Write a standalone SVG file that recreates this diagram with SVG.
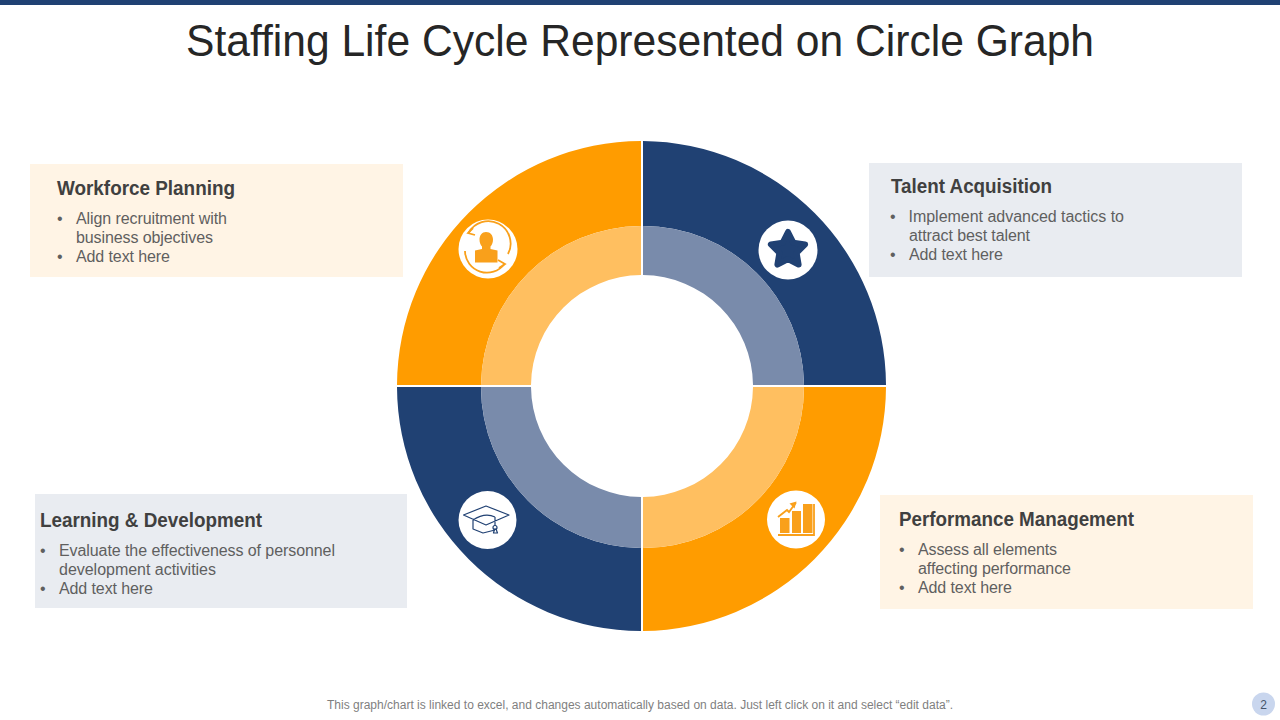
<svg xmlns="http://www.w3.org/2000/svg" width="1280" height="720" viewBox="0 0 1280 720">
<style>
text{font-family:"Liberation Sans",Arial,sans-serif}
.title{font-size:44px;fill:#262626}
.head{font-size:20px;font-weight:bold;fill:#404040}
.body{font-size:16px;fill:#5f5f5f}
.foot{font-size:12px;fill:#7f7f7f}
.blue{fill:#204173}.orange{fill:#ff9c00}.lblue{fill:#798bab}.lorange{fill:#ffbf60}
.peach{fill:#fff4e5}.grey{fill:#e9ecf1}
.o{fill:none;stroke:#f9a01b;stroke-width:1.8}
.n{fill:none;stroke:#204173;stroke-width:1.2;stroke-linejoin:round}
.bar{fill:#f9a01b}
</style>
<rect width="1280" height="720" fill="#fff"/>
<rect width="1280" height="5" fill="#204173"/>
<text class="title" x="186" y="56" textLength="908" lengthAdjust="spacingAndGlyphs">Staffing Life Cycle Represented on Circle Graph</text>
<g id="ring">
<path class="blue" d="M643 141A245 245 0 0 1 886 385H804A161 161 0 0 0 643 226Z"/>
<path class="orange" d="M886 387A245 245 0 0 1 643 631V548A161 161 0 0 0 804 387Z"/>
<path class="blue" d="M641 631A245 245 0 0 1 397 387H481A161 161 0 0 0 641 548Z"/>
<path class="orange" d="M397 385A245 245 0 0 1 641 141V226A161 161 0 0 0 481 385Z"/>
<path class="lblue" d="M643 226A161 161 0 0 1 804 385H753A111 111 0 0 0 643 275Z"/>
<path class="lorange" d="M804 387A161 161 0 0 1 643 548V497A111 111 0 0 0 753 387Z"/>
<path class="lblue" d="M641 548A161 161 0 0 1 481 387H531A111 111 0 0 0 641 497Z"/>
<path class="lorange" d="M481 385A161 161 0 0 1 641 226V275A111 111 0 0 0 531 385Z"/>
</g>
<g id="icon-workforce">
<circle cx="488" cy="249" r="29.500" fill="#fff"/>
<path class="o" d="M468.500 233A22 22 0 0 1 508 254M504.500 264A22 22 0 0 1 465 251"/>
<path class="o" d="M473 228l-5 5 7 2M498 260l7 4-6 4"/>
<path class="bar" d="M486 232c4.500 0 7 3.500 7 7.500 0 3-1 5.500-2.500 7v2.500l7 1.500v12h-22.500v-12l7-1.500v-2.500c-1.500-1.500-2.500-4-2.500-7 0-4 2.500-7.500 6.500-7.500z"/>
</g>
<g id="icon-star">
<circle cx="788" cy="250" r="29.500" fill="#fff"/>
<path class="blue" stroke="#204173" stroke-width="6" stroke-linejoin="round" d="M788 232L793.300 242.700 805.100 244.400 796.600 252.800 798.600 264.600 788 259 777.400 264.600 779.400 252.800 770.900 244.400 782.700 242.700Z"/>
</g>
<g id="icon-learning">
<circle cx="487.500" cy="520" r="29" fill="#fff"/>
<path class="n" d="M463.500 515l22.500-9 23 9-23 10zM473 518.500v10.500l10 4 12-3M473 520q12-8 22-3M495 517v9"/>
<circle class="n" cx="495" cy="527.500" r="2"/>
<path class="n" d="M493.500 533l1-4h1.500l1.500 4z"/>
</g>
<g id="icon-performance">
<circle cx="796" cy="519.500" r="29" fill="#fff"/>
<path class="bar" d="M780 518h9.500v15H780zM792 511h9v22h-9zM803 504h9.500v29H803z"/>
<path class="o" stroke-width="1.200" d="M778 535h36V504M778 517l9-7 2 2 7-9.500"/>
<path class="bar" d="M796.500 501.500l-7 2 5 5z"/>
</g>
<g id="workforce-planning">
<rect class="peach" x="30" y="164" width="373" height="113"/>
<text class="head" x="57" y="195" textLength="178" lengthAdjust="spacingAndGlyphs">Workforce Planning</text>
<text class="body" x="57" y="224">•</text><text class="body" x="76" y="224" textLength="151">Align recruitment with</text>
<text class="body" x="76" y="243" textLength="137">business objectives</text>
<text class="body" x="57" y="262">•</text><text class="body" x="76" y="262" textLength="94">Add text here</text>
</g>
<g id="talent-acquisition">
<rect class="grey" x="869" y="163" width="373" height="114"/>
<text class="head" x="891" y="193" textLength="161" lengthAdjust="spacingAndGlyphs">Talent Acquisition</text>
<text class="body" x="890" y="222">•</text><text class="body" x="908.500" y="222" textLength="215.500">Implement advanced tactics to</text>
<text class="body" x="909" y="241" textLength="121">attract best talent</text>
<text class="body" x="890" y="260">•</text><text class="body" x="909" y="260" textLength="94">Add text here</text>
</g>
<g id="learning-development">
<rect class="grey" x="35" y="494" width="372" height="114"/>
<text class="head" x="40" y="527" textLength="222" lengthAdjust="spacingAndGlyphs">Learning &amp; Development</text>
<text class="body" x="40" y="556">•</text><text class="body" x="59" y="556" textLength="276">Evaluate the effectiveness of personnel</text>
<text class="body" x="59" y="575" textLength="157">development activities</text>
<text class="body" x="40" y="594">•</text><text class="body" x="59" y="594" textLength="94">Add text here</text>
</g>
<g id="performance-management">
<rect class="peach" x="880" y="495" width="373" height="114"/>
<text class="head" x="899" y="526" textLength="235" lengthAdjust="spacingAndGlyphs">Performance Management</text>
<text class="body" x="899" y="555">•</text><text class="body" x="918" y="555" textLength="139">Assess all elements</text>
<text class="body" x="918" y="574" textLength="153">affecting performance</text>
<text class="body" x="899" y="593">•</text><text class="body" x="918" y="593" textLength="94">Add text here</text>
</g>
<text class="foot" x="327" y="709" textLength="626">This graph/chart is linked to excel, and changes automatically based on data. Just left click on it and select “edit data”.</text>
<g id="page-number">
<circle cx="1263.500" cy="704" r="11.500" fill="#c9d6ee"/>
<text x="1263.500" y="708.500" text-anchor="middle" font-size="12" fill="#44546a">2</text>
</g>
</svg>
